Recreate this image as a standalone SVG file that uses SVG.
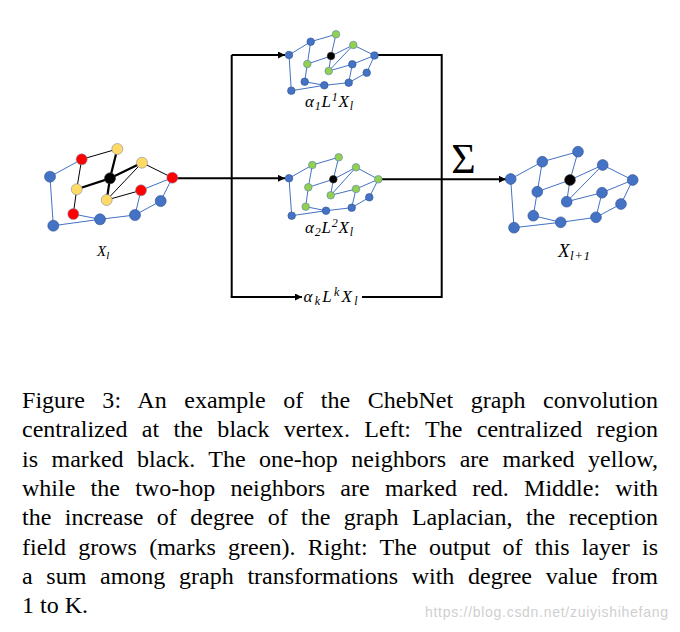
<svg xmlns="http://www.w3.org/2000/svg" width="680" height="632" viewBox="0 0 680 632">
<defs>
<style>
.eb{stroke:#4472C4;stroke-width:1;fill:none}
.ek{stroke:#000;stroke-width:1;fill:none}
.ekk{stroke:#000;stroke-width:2.2;fill:none}
.nb{fill:#4472C4;stroke:#2F528F;stroke-width:0.6}
.ny{fill:#FFD966;stroke:#7F8FA8;stroke-width:0.6}
.nr{fill:#FF0000;stroke:#7F8FA8;stroke-width:0.6}
.ng{fill:#92D050;stroke:#5B7FB8;stroke-width:0.6}
.nk{fill:#000;stroke:#333;stroke-width:0.6}
.conn{stroke:#000;stroke-width:2;fill:none}
.math{font-family:"Liberation Serif","DejaVu Serif",serif;font-style:italic;fill:#000}
.cap{font-family:"Liberation Serif","Times New Roman",serif;font-size:24px;fill:#000}
</style>
<marker id="arr" viewBox="0 0 10 10" refX="10" refY="5" markerWidth="8" markerHeight="7" markerUnits="userSpaceOnUse" orient="auto">
<path d="M0,0 L10,5 L0,10 z" fill="#000"/>
</marker>
</defs>
<rect width="680" height="632" fill="#fff"/>

<g id="connectors">
<path class="conn" d="M172.3,178.3 L285,178.3" marker-end="url(#arr)"/>
<path class="conn" d="M231.7,178.3 L231.7,55"/>
<path class="conn" d="M231.7,55 L285,55" marker-end="url(#arr)"/>
<path class="conn" d="M231.7,178.3 L231.7,297"/>
<path class="conn" d="M230.7,297 L302,297" marker-end="url(#arr)"/>
<path class="conn" d="M362,297 L441.7,297 L441.7,55 L375,55"/>
<path class="conn" d="M378.3,179.3 L506,179.3" marker-end="url(#arr)"/>
</g>

<g id="graph-input">
<g id="input-edges">
<path class="eb" d="M50,176.7 L81.7,159.3 M50,176.7 L53.3,225.7 L100,219.3 L73.3,214 M100,219.3 L135,215 L141,190.3 L172.3,177.7 M135,215 L160.7,201 L172.3,177.7"/>
<path class="ek" d="M81.7,159.3 L117.3,149 M81.7,159.3 L76.7,189.3 L73.3,214 M106.7,200 L142,162.7 M106.7,200 L141,190.3 M142,162.7 L172.3,177.7"/>
<path class="ekk" d="M76.7,189.3 L110,178.3 L117.3,149 M110,178.3 L106.7,200 M110,178.3 L142,162.7"/>
</g>
<g id="input-vertices">
<circle class="nb" cx="50" cy="176.7" r="5.5"/>
<circle class="nr" cx="81.7" cy="159.3" r="5.5"/>
<circle class="ny" cx="117.3" cy="149" r="5.5"/>
<circle class="ny" cx="142" cy="162.7" r="5.5"/>
<circle class="nk" cx="110" cy="178.3" r="5.5"/>
<circle class="nr" cx="172.3" cy="177.7" r="5.5"/>
<circle class="ny" cx="76.7" cy="189.3" r="5.5"/>
<circle class="nr" cx="141" cy="190.3" r="5.5"/>
<circle class="ny" cx="106.7" cy="200" r="5.5"/>
<circle class="nb" cx="160.7" cy="201" r="5.5"/>
<circle class="nr" cx="73.3" cy="214" r="5.5"/>
<circle class="nb" cx="100" cy="219.3" r="5.5"/>
<circle class="nb" cx="135" cy="215" r="5.5"/>
<circle class="nb" cx="53.3" cy="225.7" r="5.5"/>
</g>
<text id="label-input" class="math" x="97" y="255.5" font-size="15">X<tspan font-size="11" dy="3">l</tspan></text>
</g>

<g id="graph-L1">
<path class="eb" d="M289,55 L310.7,41.7 L336,34.3 L331,56 L307.3,64 L310.7,41.7 M331,56 L353.3,45 L374.5,55.5 M331,56 L328.7,71 L353.3,45 M328.7,71 L352.3,64.3 L374.5,55.5 L366.7,72.7 L348.7,82.7 L352.3,64.3 M289,55 L291.3,90.7 L324.3,85.3 L304.7,81.7 L307.3,64 M324.3,85.3 L348.7,82.7"/>
<circle class="nb" cx="289" cy="55" r="3.8"/>
<circle class="nb" cx="310.7" cy="41.7" r="3.8"/>
<circle class="ng" cx="336" cy="34.3" r="3.8"/>
<circle class="ng" cx="353.3" cy="45" r="3.8"/>
<circle class="nk" cx="331" cy="56" r="3.8"/>
<circle class="nb" cx="374.5" cy="55.5" r="3.8"/>
<circle class="ng" cx="307.3" cy="64" r="3.8"/>
<circle class="nb" cx="352.3" cy="64.3" r="3.8"/>
<circle class="ng" cx="328.7" cy="71" r="3.8"/>
<circle class="nb" cx="366.7" cy="72.7" r="3.8"/>
<circle class="nb" cx="304.7" cy="81.7" r="3.8"/>
<circle class="nb" cx="324.3" cy="85.3" r="3.8"/>
<circle class="nb" cx="348.7" cy="82.7" r="3.8"/>
<circle class="nb" cx="291.3" cy="90.7" r="3.8"/>
<text id="label-L1" class="math" x="305" y="106.5" font-size="17" textLength="48">α<tspan font-size="12" dy="3">1</tspan><tspan dy="-3">L</tspan><tspan font-size="12" dy="-6">1</tspan><tspan dy="6">X</tspan><tspan font-size="12" dy="3">l</tspan></text>
</g>

<g id="graph-L2">
<path class="eb" d="M289,178.3 L312.3,165 L338.7,157.3 L333.3,179.3 L308.3,187.3 L312.3,165 M333.3,179.3 L356,167.3 L378.3,179.3 M333.3,179.3 L330.7,195.3 L356,167.3 M330.7,195.3 L356,189 L378.3,179.3 L369.3,197.3 L351.7,207.7 L356,189 M289,178.3 L291.7,215.7 L326,210.7 L305.7,206.7 L308.3,187.3 M326,210.7 L351.7,207.7"/>
<circle class="nb" cx="289" cy="178.3" r="3.8"/>
<circle class="ng" cx="312.3" cy="165" r="3.8"/>
<circle class="ng" cx="338.7" cy="157.3" r="3.8"/>
<circle class="ng" cx="356" cy="167.3" r="3.8"/>
<circle class="nk" cx="333.3" cy="179.3" r="3.8"/>
<circle class="ng" cx="378.3" cy="179.3" r="3.8"/>
<circle class="ng" cx="308.3" cy="187.3" r="3.8"/>
<circle class="ng" cx="356" cy="189" r="3.8"/>
<circle class="ng" cx="330.7" cy="195.3" r="3.8"/>
<circle class="nb" cx="369.3" cy="197.3" r="3.8"/>
<circle class="ng" cx="305.7" cy="206.7" r="3.8"/>
<circle class="nb" cx="326" cy="210.7" r="3.8"/>
<circle class="nb" cx="351.7" cy="207.7" r="3.8"/>
<circle class="nb" cx="291.7" cy="215.7" r="3.8"/>
<text id="label-L2" class="math" x="305" y="232.5" font-size="17" textLength="48">α<tspan font-size="12" dy="3">2</tspan><tspan dy="-3">L</tspan><tspan font-size="12" dy="-6">2</tspan><tspan dy="6">X</tspan><tspan font-size="12" dy="3">l</tspan></text>
</g>

<g id="label-Lk">
<text class="math" x="303.5" y="301.5" font-size="17" textLength="54">α<tspan font-size="12" dy="3">k</tspan><tspan dy="-3">L</tspan><tspan font-size="12" dy="-6">k</tspan><tspan dy="6">X</tspan><tspan font-size="12" dy="3">l</tspan></text>
</g>

<g id="sum">
<text x="463.5" y="173" font-family="'Liberation Serif','DejaVu Serif',serif" font-size="42" text-anchor="middle">Σ</text>
</g>

<g id="graph-output">
<path class="eb" d="M510.7,179 L542.3,161.7 L578,151.7 L570,180 L537.3,191.7 L542.3,161.7 M570,180 L602.7,165 L632.7,180 M570,180 L566.7,201.7 L602.7,165 M566.7,201.7 L602,192.7 L632.7,180 L621,204 L596,217.3 L602,192.7 M510.7,179 L514,227.7 L560.7,222.3 L533.3,215.7 L537.3,191.7 M560.7,222.3 L596,217.3"/>
<circle class="nb" cx="510.7" cy="179" r="5.4"/>
<circle class="nb" cx="542.3" cy="161.7" r="5.4"/>
<circle class="nb" cx="578" cy="151.7" r="5.4"/>
<circle class="nb" cx="602.7" cy="165" r="5.4"/>
<circle class="nk" cx="570" cy="180" r="5.4"/>
<circle class="nb" cx="632.7" cy="180" r="5.4"/>
<circle class="nb" cx="537.3" cy="191.7" r="5.4"/>
<circle class="nb" cx="602" cy="192.7" r="5.4"/>
<circle class="nb" cx="566.7" cy="201.7" r="5.4"/>
<circle class="nb" cx="621" cy="204" r="5.4"/>
<circle class="nb" cx="533.3" cy="215.7" r="5.4"/>
<circle class="nb" cx="560.7" cy="222.3" r="5.4"/>
<circle class="nb" cx="596" cy="217.3" r="5.4"/>
<circle class="nb" cx="514" cy="227.7" r="5.4"/>
<text id="label-output" class="math" x="558" y="256.5" font-size="19" textLength="32">X<tspan font-size="13" dy="3.5">l+1</tspan></text>
</g>

<g id="caption">
<text class="cap" x="22" y="408" textLength="636" lengthAdjust="spacing" style="word-spacing:11.5px">Figure 3: An example of the ChebNet graph convolution</text>
<text class="cap" x="22" y="437.3" textLength="636" lengthAdjust="spacing" style="word-spacing:8.4px">centralized at the black vertex. Left: The centralized region</text>
<text class="cap" x="22" y="466.6" textLength="636" lengthAdjust="spacing" style="word-spacing:7.35px">is marked black. The one-hop neighbors are marked yellow,</text>
<text class="cap" x="22" y="495.9" textLength="636" lengthAdjust="spacing" style="word-spacing:9.26px">while the two-hop neighbors are marked red. Middle: with</text>
<text class="cap" x="22" y="525.2" textLength="636" lengthAdjust="spacing" style="word-spacing:7.43px">the increase of degree of the graph Laplacian, the reception</text>
<text class="cap" x="22" y="554.5" textLength="636" lengthAdjust="spacing" style="word-spacing:6.21px">field grows (marks green). Right: The output of this layer is</text>
<text class="cap" x="22" y="583.8" textLength="636" lengthAdjust="spacing" style="word-spacing:7.7px">a sum among graph transformations with degree value from</text>
<text class="cap" x="22" y="613.1">1 to K.</text>
</g>

<g id="watermark">
<text x="425" y="617" font-family="'Liberation Sans',Arial,sans-serif" font-size="14" fill="#cfcfcf" textLength="243">https://blog.csdn.net/zuiyishihefang</text>
</g>
</svg>
